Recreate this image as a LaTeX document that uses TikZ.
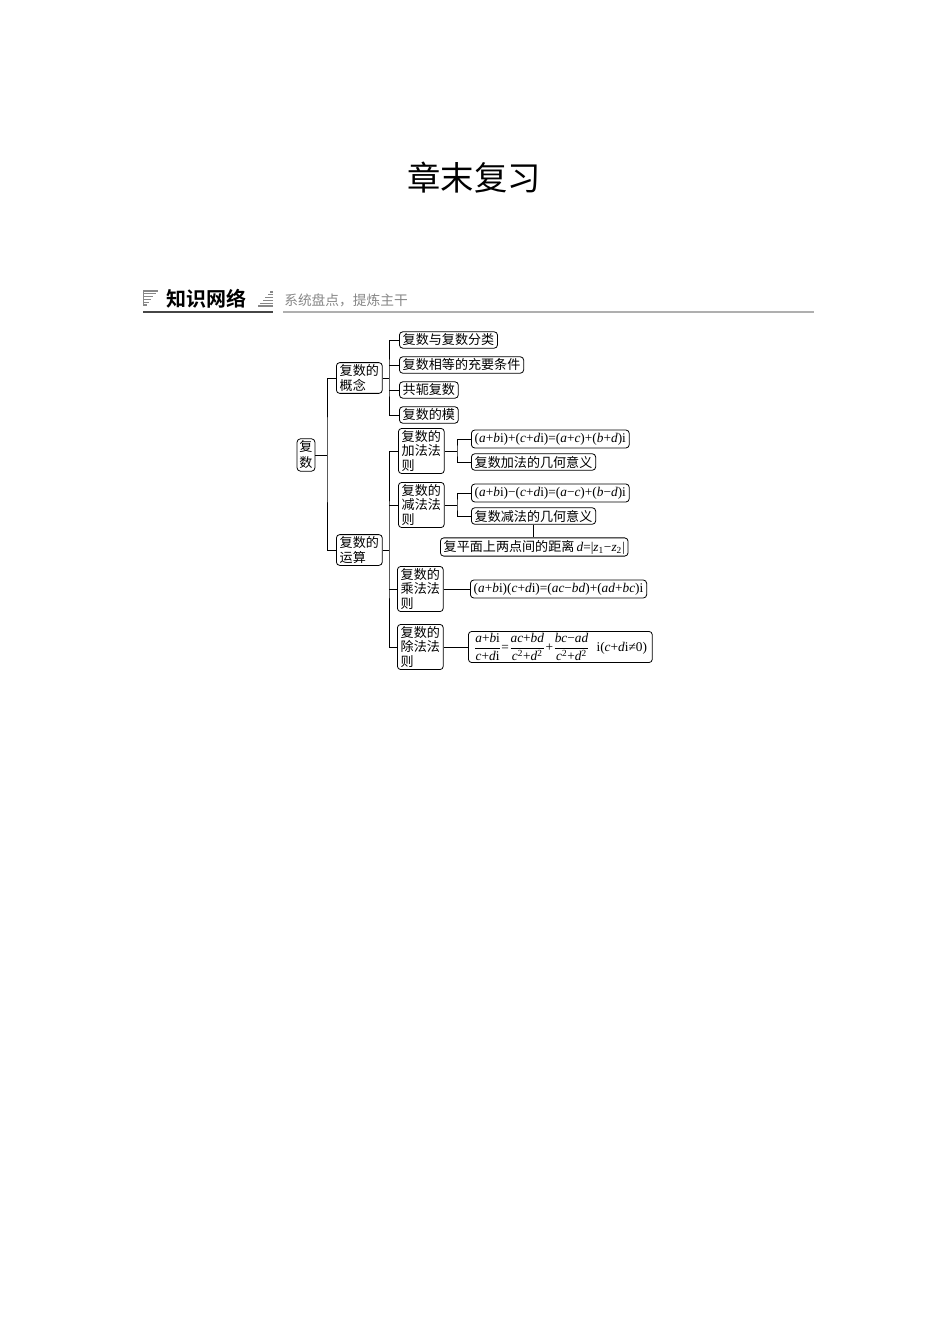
\documentclass[tikz,border=0pt]{standalone}
\usepackage{amssymb,amsmath}
\usepackage{xcolor}
\usepackage{fontspec}
\newfontfamily\cjk{Noto Sans CJK SC}
\newfontfamily\cjkbf{Noto Sans CJK SC Bold}
\newfontfamily\lserif{Liberation Serif}
\definecolor{hdrgray}{RGB}{135,135,135}
\definecolor{ruledark}{RGB}{70,70,70}
\definecolor{rulelight}{RGB}{175,175,175}
\newcommand{\fracbox}[2]{$\dfrac{\hbox{\lserif\fontsize{10}{10}\selectfont #1}}{\hbox{\lserif\fontsize{10}{10}\selectfont #2}}$}

\tikzset{
  kbox/.style={draw, rounded corners=2.5pt, line width=0.6pt, inner xsep=2.5pt, inner ysep=1.6pt,
    font=\cjk\fontsize{9.8}{10.8}\selectfont, anchor=west, align=left},
  fbox/.style={kbox, font=\lserif\fontsize{10}{11}\selectfont, inner ysep=2.2pt},
  link/.style={line width=0.6pt},
}

\begin{document}
\begin{tikzpicture}[x=0.75pt,y=0.75pt,yscale=-1,xscale=1]
\path[use as bounding box] (0,0) rectangle (950,1344);

% Text Node
\node[inner sep=0pt] (title) at (474,178) {\cjk\fontsize{25}{25}\selectfont 章末复习};

%Shape: header icons
\draw[hdrgray, line width=0.8pt] (143.5,290.5) -- (143.5,305.5);
\foreach \k in {0,...,5}
  \draw[hdrgray, line width=0.9pt] (143,291+2.8*\k) -- ++(15-2.3*\k,0);
\foreach \k in {0,...,5}
  \draw[hdrgray, line width=0.9pt] (273,292+2.8*\k) -- ++(-3-2.4*\k,0);
% Text Node
\node[anchor=west, inner sep=0pt] (hdr) at (166,299) {\cjkbf\fontsize{15}{15}\selectfont 知识网络};
% Text Node
\node[anchor=west, inner sep=0pt, text=hdrgray] (sub) at (284,300.5) {\cjk\fontsize{10.3}{10.3}\selectfont 系统盘点，提炼主干};
%Straight Lines
\draw[ruledark, line width=1.5pt] (143,312) -- (273,312);
\draw[rulelight, line width=1.5pt] (283,312.5) -- (814,312.5);

% Text Node
\node[kbox, anchor=center, inner xsep=1.8pt, font=\cjk\fontsize{9.8}{12}\selectfont] (root) at (306,455) {复\\数};
\node[kbox] (gai) at (336,378) {复数的\\概念};
\node[kbox] (yun) at (336,550) {复数的\\运算};

\node[kbox] (g1) at (399,340) {复数与复数分类};
\node[kbox] (g2) at (399,365) {复数相等的充要条件};
\node[kbox] (g3) at (399,390) {共轭复数};
\node[kbox] (g4) at (399,415) {复数的模};

\node[kbox] (jia) at (398,451) {复数的\\加法法\\则};
\node[kbox] (jian) at (398,505) {复数的\\减法法\\则};
\node[kbox] (cheng) at (397,589) {复数的\\乘法法\\则};
\node[kbox] (chu) at (397,647) {复数的\\除法法\\则};

\node[fbox] (a1) at (471,439) {(\textit{a}+\textit{b}i)+(\textit{c}+\textit{d}i)=(\textit{a}+\textit{c})+(\textit{b}+\textit{d})i};
\node[kbox] (a2) at (471,462) {复数加法的几何意义};
\node[fbox] (s1) at (471,493) {(\textit{a}+\textit{b}i)−(\textit{c}+\textit{d}i)=(\textit{a}−\textit{c})+(\textit{b}−\textit{d})i};
\node[kbox] (s2) at (471,516) {复数减法的几何意义};
\node[kbox] (dist) at (440,547) {复平面上两点间的距离\,{\lserif\fontsize{10}{11}\selectfont\textit{d}=|\textit{z}\textsubscript{1}−\textit{z}\textsubscript{2}|}};
\node[fbox] (m1) at (470,589) {(\textit{a}+\textit{b}i)(\textit{c}+\textit{d}i)=(\textit{ac}−\textit{bd})+(\textit{ad}+\textit{bc})i};
\node[fbox, inner ysep=1.2pt, inner xsep=4pt] (d1) at (468,647) {\fracbox{\textit{a}+\textit{b}i}{\textit{c}+\textit{d}i}=\fracbox{\textit{ac}+\textit{bd}}{\textit{c}\textsuperscript{2}+\textit{d}\textsuperscript{2}}+\fracbox{\textit{bc}−\textit{ad}}{\textit{c}\textsuperscript{2}+\textit{d}\textsuperscript{2}}\ \ i(\textit{c}+\textit{d}i≠0)};

%Straight Lines
\coordinate (b0) at (327,455);
\draw[link] (root.east) -- (root.east -| b0);
\draw[link] (gai.west) -| (b0) |- (yun.west);

\coordinate (b1) at (389,378);
\draw[link] (gai.east) -- (gai.east -| b1);
\draw[link] (g1.west) -| (b1) |- (g4.west);
\draw[link] (g2.west) -- (g2.west -| b1);
\draw[link] (g3.west) -- (g3.west -| b1);

\coordinate (b2) at (389,550);
\draw[link] (yun.east) -- (yun.east -| b2);
\draw[link] (jia.west) -| (b2) |- (chu.west);
\draw[link] (jian.west) -- (jian.west -| b2);
\draw[link] (cheng.west) -- (cheng.west -| b2);

\coordinate (b3) at (457,451);
\draw[link] (jia.east) -- (jia.east -| b3);
\draw[link] (a1.west) -| (b3) |- (a2.west);

\coordinate (b4) at (457,505);
\draw[link] (jian.east) -- (jian.east -| b4);
\draw[link] (s1.west) -| (b4) |- (s2.west);
\draw[link] (s2.south) -- (s2.south |- dist.north);

\draw[link] (cheng.east) -- (m1.west);
\draw[link] (chu.east) -- (d1.west);

\end{tikzpicture}
\end{document}
